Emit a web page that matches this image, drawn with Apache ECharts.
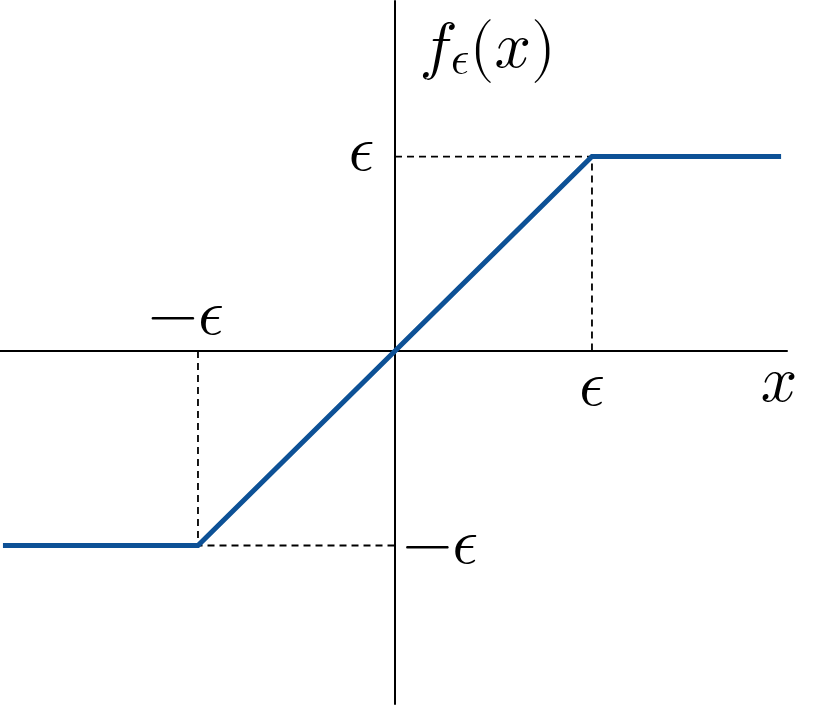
<!DOCTYPE html>
<html>
<head>
<meta charset="utf-8">
<script src="https://cdn.jsdelivr.net/npm/echarts@6/dist/echarts.min.js"></script>
<style>
    html, body { margin: 0; padding: 0; background: #fff; }
    #chart { width: 830px; height: 724px; }
</style>
</head>
<body>
<div id="chart"></div>
<script>
// clipped identity f_eps(x), x and y in units of eps
const clipLine = [[-1.99, -1], [-1, -1], [1, 1], [1.96, 1]];
const guideUpper = [[0, 1], [1, 1], [1, 0]];
const guideLower = [[-1, 0], [-1, -1], [0, -1]];

// label texts and the data point each one belongs to
const labelTexts = ['𝜖', '−𝜖', '𝜖', '−𝜖', '𝑥', '𝑓{s|𝜖}(𝑥)'];
const labelAt = [[0, 1], [0, -1], [1, 0], [-1, 0], [1.95, 0], [0, 1.5]];

const mathFont = '"Latin Modern Math", "DejaVu Serif", serif';

let myChart = echarts.init(document.getElementById('chart'));

// where each label goes relative to its point
const placing = [
    { position: 'left', distance: 20, offset: [0, -6] },
    { position: 'right', distance: 7, offset: [0, -2] },
    { position: 'bottom', distance: 2 },
    { position: 'top', distance: 4, offset: [-12, 0] },
    { position: 'bottom', distance: -2 },
    { position: 'right', distance: 24, offset: [0, -12] }
];

let labelData = labelAt.map((p, i) => ({
    value: p,
    label: Object.assign({ show: true, formatter: labelTexts[i] }, placing[i])
}));

let option = {
    animation: false,
    grid: { left: 0, top: 1, width: 787, height: 703 },
    xAxis: {
        type: 'value',
        min: -2.005,
        max: 1.99,
        axisLine: { onZero: true, lineStyle: { color: '#000', width: 2 } },
        axisTick: { show: false },
        axisLabel: { show: false },
        splitLine: { show: false }
    },
    yAxis: {
        type: 'value',
        min: -1.815,
        max: 1.8,
        axisLine: { onZero: true, lineStyle: { color: '#000', width: 2 } },
        axisTick: { show: false },
        axisLabel: { show: false },
        splitLine: { show: false }
    },
    series: [
        {
            type: 'line',
            data: guideUpper,
            symbol: 'none',
            lineStyle: { color: '#000', width: 1.8, type: [7, 5] },
            z: 2
        },
        {
            type: 'line',
            data: guideLower,
            symbol: 'none',
            lineStyle: { color: '#000', width: 1.8, type: [7, 5] },
            z: 2
        },
        {
            type: 'line',
            data: clipLine,
            symbol: 'none',
            lineStyle: { color: '#0D5196', width: 5, cap: 'butt', join: 'miter' },
            z: 3
        },
        {
            type: 'scatter',
            data: labelData,
            symbolSize: 1,
            itemStyle: { color: 'rgba(0,0,0,0)', opacity: 1 },
            label: {
                color: '#000',
                opacity: 1,
                fontFamily: mathFont,
                fontSize: 64,
                rich: {
                    s: { fontFamily: mathFont, fontSize: 46, color: '#000', verticalAlign: 'bottom', padding: [24, 0, 0, 0] }
                }
            },
            z: 4
        }
    ]
};

myChart.setOption(option);
window.onresize = myChart.resize;
</script>
</body>
</html>
